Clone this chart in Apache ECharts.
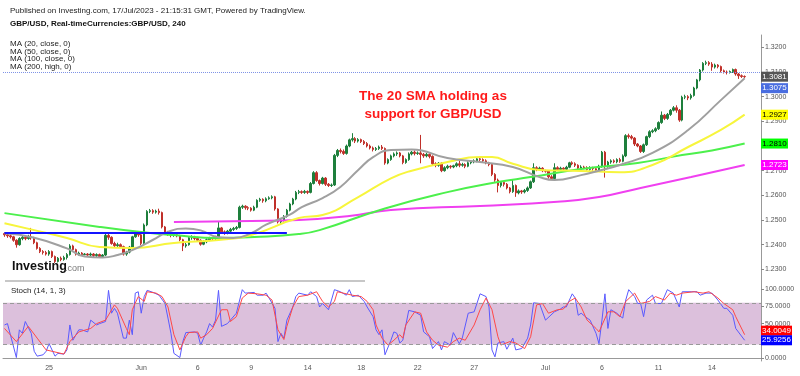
<!DOCTYPE html>
<html>
<head>
<meta charset="utf-8">
<script src="https://cdn.jsdelivr.net/npm/echarts@6/dist/echarts.min.js"></script>
<style>
  html, body { margin: 0; padding: 0; background: #fff; }
  #chart { width: 800px; height: 376px; }
</style>
</head>
<body>
<div id="chart"></div>
<script>
///////////////////////////////////////////////////
// Data
///////////////////////////////////////////////////

// 4h sessions: day name and number of bars of that day
const sessionDays = ['May 22', 'May 23', 'May 24', 'May 25', 'May 26', 'May 28', 'May 29', 'May 30', 'May 31',
  'Jun 1', 'Jun 2', 'Jun 4', 'Jun 5', 'Jun 6', 'Jun 7', 'Jun 8', 'Jun 9', 'Jun 11', 'Jun 12', 'Jun 13',
  'Jun 14', 'Jun 15', 'Jun 16', 'Jun 18', 'Jun 19', 'Jun 20', 'Jun 21', 'Jun 22', 'Jun 23', 'Jun 25',
  'Jun 26', 'Jun 27', 'Jun 28', 'Jun 29', 'Jun 30', 'Jul 2', 'Jul 3', 'Jul 4', 'Jul 5', 'Jul 6', 'Jul 7',
  'Jul 9', 'Jul 10', 'Jul 11', 'Jul 12', 'Jul 13', 'Jul 14', 'Jul 16', 'Jul 17'];
const barsPerDay = [3, 6, 6, 6, 6, 1, 6, 6, 6, 6, 6, 1, 6, 6, 6, 6, 6, 1, 6, 6, 6, 6, 6, 1, 6, 6, 6, 6, 6, 1,
  6, 6, 6, 6, 6, 1, 6, 6, 6, 6, 6, 1, 6, 6, 6, 6, 6, 1, 5];
const emptyBarsRight = 5;

// x axis tick labels
const tickDays = ['May 25', 'Jun 1', 'Jun 6', 'Jun 9', 'Jun 14', 'Jun 18', 'Jun 22', 'Jun 27', 'Jul 2', 'Jul 6', 'Jul 11', 'Jul 14'];
const tickTexts = ['25', 'Jun', '6', '9', '14', '18', '22', '27', 'Jul', '6', '11', '14'];

// y axis tick labels
const priceTicks = [1.23, 1.24, 1.25, 1.26, 1.27, 1.28, 1.29, 1.30, 1.31, 1.32];
const stochTicks = [0, 25, 50, 75, 100];

// candles: [open, close, low, high]
const candles = [
  [1.2445,1.2440,1.2432,1.2450],[1.2440,1.2436,1.2428,1.2446],[1.2436,1.2432,1.2425,1.2442],[1.2432,1.2418,1.2412,1.2436],
  [1.2418,1.2400,1.2388,1.2422],[1.2400,1.2425,1.2396,1.2430],[1.2425,1.2430,1.2418,1.2436],[1.2430,1.2425,1.2418,1.2437],
  [1.2425,1.2432,1.2420,1.2440],[1.2432,1.2428,1.2420,1.2468],[1.2428,1.2408,1.2402,1.2432],[1.2408,1.2385,1.2380,1.2412],
  [1.2385,1.2372,1.2366,1.2390],[1.2372,1.2368,1.2360,1.2378],[1.2368,1.2362,1.2356,1.2375],[1.2362,1.2372,1.2355,1.2378],
  [1.2372,1.2352,1.2346,1.2376],[1.2352,1.2332,1.2326,1.2356],[1.2332,1.2345,1.2328,1.2350],[1.2345,1.2340,1.2333,1.2352],
  [1.2340,1.2348,1.2335,1.2355],[1.2348,1.2360,1.2340,1.2366],[1.2360,1.2395,1.2356,1.2402],[1.2395,1.2380,1.2372,1.2400],
  [1.2380,1.2362,1.2356,1.2384],[1.2362,1.2366,1.2356,1.2372],[1.2366,1.2360,1.2354,1.2370],[1.2360,1.2362,1.2357,1.2366],
  [1.2362,1.2358,1.2350,1.2366],[1.2358,1.2362,1.2352,1.2368],[1.2362,1.2356,1.2350,1.2366],[1.2356,1.2360,1.2350,1.2365],
  [1.2360,1.2352,1.2346,1.2364],[1.2352,1.2358,1.2346,1.2362],[1.2358,1.2438,1.2354,1.2444],[1.2438,1.2430,1.2420,1.2445],
  [1.2430,1.2405,1.2400,1.2434],[1.2405,1.2396,1.2390,1.2412],[1.2396,1.2400,1.2390,1.2408],[1.2400,1.2392,1.2386,1.2405],
  [1.2392,1.2362,1.2356,1.2396],[1.2362,1.2370,1.2355,1.2375],[1.2370,1.2390,1.2365,1.2395],[1.2390,1.2432,1.2386,1.2436],
  [1.2432,1.2445,1.2428,1.2450],[1.2445,1.2440,1.2432,1.2452],[1.2440,1.2405,1.2398,1.2444],[1.2405,1.2480,1.2400,1.2486],
  [1.2480,1.2535,1.2475,1.2540],[1.2535,1.2538,1.2528,1.2545],[1.2538,1.2532,1.2525,1.2544],[1.2532,1.2536,1.2526,1.2542],
  [1.2536,1.2530,1.2522,1.2546],[1.2530,1.2472,1.2466,1.2534],[1.2472,1.2448,1.2440,1.2476],[1.2448,1.2445,1.2436,1.2456],
  [1.2445,1.2438,1.2430,1.2450],[1.2438,1.2440,1.2432,1.2446],[1.2440,1.2436,1.2430,1.2442],[1.2436,1.2420,1.2414,1.2440],
  [1.2420,1.2395,1.2374,1.2424],[1.2395,1.2400,1.2388,1.2408],[1.2400,1.2428,1.2396,1.2432],[1.2428,1.2430,1.2420,1.2438],
  [1.2430,1.2425,1.2418,1.2436],[1.2425,1.2418,1.2412,1.2432],[1.2418,1.2402,1.2396,1.2422],[1.2402,1.2412,1.2398,1.2418],
  [1.2412,1.2420,1.2406,1.2426],[1.2420,1.2428,1.2414,1.2432],[1.2428,1.2424,1.2418,1.2432],[1.2424,1.2432,1.2418,1.2436],
  [1.2432,1.2468,1.2428,1.2495],[1.2468,1.2452,1.2446,1.2472],[1.2452,1.2448,1.2440,1.2458],[1.2448,1.2455,1.2442,1.2460],
  [1.2455,1.2462,1.2450,1.2468],[1.2462,1.2466,1.2456,1.2472],[1.2466,1.2470,1.2460,1.2476],[1.2470,1.2552,1.2466,1.2558],
  [1.2552,1.2556,1.2545,1.2562],[1.2556,1.2550,1.2542,1.2560],[1.2550,1.2548,1.2540,1.2556],[1.2548,1.2540,1.2534,1.2552],
  [1.2540,1.2552,1.2536,1.2558],[1.2552,1.2580,1.2548,1.2584],[1.2580,1.2584,1.2574,1.2590],[1.2584,1.2578,1.2570,1.2588],
  [1.2578,1.2586,1.2572,1.2592],[1.2586,1.2590,1.2582,1.2596],[1.2590,1.2594,1.2584,1.2600],[1.2594,1.2545,1.2538,1.2598],
  [1.2545,1.2492,1.2486,1.2548],[1.2492,1.2500,1.2484,1.2506],[1.2500,1.2515,1.2494,1.2520],[1.2515,1.2540,1.2510,1.2545],
  [1.2540,1.2565,1.2535,1.2570],[1.2565,1.2585,1.2560,1.2590],[1.2585,1.2612,1.2580,1.2618],[1.2612,1.2615,1.2605,1.2622],
  [1.2615,1.2612,1.2606,1.2620],[1.2612,1.2616,1.2606,1.2622],[1.2616,1.2612,1.2605,1.2620],[1.2612,1.2648,1.2608,1.2654],
  [1.2648,1.2692,1.2644,1.2698],[1.2692,1.2660,1.2655,1.2698],[1.2660,1.2648,1.2640,1.2664],[1.2648,1.2670,1.2644,1.2675],
  [1.2670,1.2645,1.2638,1.2674],[1.2645,1.2640,1.2634,1.2650],[1.2640,1.2642,1.2634,1.2648],[1.2642,1.2762,1.2638,1.2768],
  [1.2762,1.2782,1.2755,1.2788],[1.2782,1.2778,1.2770,1.2790],[1.2778,1.2770,1.2764,1.2786],[1.2770,1.2800,1.2765,1.2806],
  [1.2800,1.2825,1.2795,1.2830],[1.2825,1.2830,1.2818,1.2852],[1.2830,1.2820,1.2812,1.2836],[1.2820,1.2826,1.2814,1.2832],
  [1.2826,1.2818,1.2812,1.2830],[1.2818,1.2810,1.2804,1.2824],[1.2810,1.2800,1.2794,1.2816],[1.2800,1.2792,1.2786,1.2806],
  [1.2792,1.2786,1.2778,1.2798],[1.2786,1.2790,1.2780,1.2796],[1.2790,1.2796,1.2784,1.2802],[1.2796,1.2790,1.2784,1.2804],
  [1.2790,1.2731,1.2724,1.2794],[1.2731,1.2745,1.2726,1.2750],[1.2745,1.2760,1.2740,1.2765],[1.2760,1.2768,1.2754,1.2774],
  [1.2768,1.2772,1.2760,1.2778],[1.2772,1.2760,1.2754,1.2776],[1.2760,1.2733,1.2726,1.2764],[1.2733,1.2745,1.2728,1.2750],
  [1.2745,1.2768,1.2740,1.2774],[1.2768,1.2775,1.2762,1.2780],[1.2775,1.2770,1.2762,1.2782],[1.2770,1.2772,1.2764,1.2778],
  [1.2772,1.2766,1.2730,1.2845],[1.2766,1.2760,1.2752,1.2772],[1.2760,1.2766,1.2754,1.2772],[1.2766,1.2758,1.2750,1.2770],
  [1.2758,1.2728,1.2720,1.2762],[1.2728,1.2722,1.2714,1.2734],[1.2722,1.2730,1.2716,1.2735],[1.2730,1.2700,1.2694,1.2734],
  [1.2700,1.2712,1.2696,1.2718],[1.2712,1.2718,1.2706,1.2724],[1.2718,1.2715,1.2708,1.2722],[1.2715,1.2720,1.2710,1.2724],
  [1.2720,1.2728,1.2714,1.2734],[1.2728,1.2722,1.2714,1.2740],[1.2722,1.2725,1.2716,1.2732],[1.2725,1.2718,1.2710,1.2730],
  [1.2718,1.2732,1.2714,1.2738],[1.2732,1.2736,1.2726,1.2742],[1.2736,1.2740,1.2730,1.2746],[1.2740,1.2748,1.2734,1.2754],
  [1.2748,1.2745,1.2738,1.2752],[1.2745,1.2740,1.2732,1.2750],[1.2740,1.2732,1.2726,1.2746],[1.2732,1.2725,1.2718,1.2736],
  [1.2725,1.2685,1.2678,1.2728],[1.2685,1.2662,1.2655,1.2690],[1.2662,1.2640,1.2612,1.2668],[1.2640,1.2652,1.2632,1.2658],
  [1.2652,1.2645,1.2636,1.2656],[1.2645,1.2630,1.2624,1.2650],[1.2630,1.2615,1.2608,1.2634],[1.2615,1.2640,1.2610,1.2662],
  [1.2640,1.2610,1.2594,1.2644],[1.2610,1.2618,1.2604,1.2624],[1.2618,1.2614,1.2606,1.2622],[1.2614,1.2620,1.2608,1.2626],
  [1.2620,1.2630,1.2614,1.2636],[1.2630,1.2655,1.2626,1.2660],[1.2655,1.2712,1.2650,1.2730],[1.2712,1.2705,1.2698,1.2718],
  [1.2705,1.2710,1.2700,1.2716],[1.2710,1.2700,1.2694,1.2714],[1.2700,1.2698,1.2692,1.2704],[1.2698,1.2675,1.2668,1.2702],
  [1.2675,1.2668,1.2662,1.2682],[1.2668,1.2712,1.2664,1.2730],[1.2712,1.2705,1.2700,1.2718],[1.2705,1.2710,1.2700,1.2716],
  [1.2710,1.2706,1.2700,1.2714],[1.2706,1.2714,1.2700,1.2720],[1.2714,1.2732,1.2710,1.2736],[1.2732,1.2728,1.2722,1.2738],
  [1.2728,1.2722,1.2715,1.2734],[1.2722,1.2710,1.2704,1.2726],[1.2710,1.2715,1.2705,1.2722],[1.2715,1.2712,1.2706,1.2720],
  [1.2712,1.2705,1.2700,1.2718],[1.2705,1.2712,1.2700,1.2718],[1.2712,1.2708,1.2700,1.2716],[1.2708,1.2702,1.2696,1.2714],
  [1.2702,1.2718,1.2696,1.2724],[1.2718,1.2775,1.2712,1.2780],[1.2775,1.2718,1.2672,1.2780],[1.2718,1.2735,1.2712,1.2740],
  [1.2735,1.2740,1.2728,1.2746],[1.2740,1.2736,1.2730,1.2746],[1.2736,1.2745,1.2730,1.2750],[1.2745,1.2738,1.2732,1.2752],
  [1.2738,1.2760,1.2734,1.2766],[1.2760,1.2842,1.2755,1.2848],[1.2842,1.2838,1.2830,1.2850],[1.2838,1.2832,1.2826,1.2845],
  [1.2832,1.2808,1.2800,1.2836],[1.2808,1.2800,1.2795,1.2812],[1.2800,1.2778,1.2772,1.2804],[1.2778,1.2805,1.2772,1.2810],
  [1.2805,1.2838,1.2800,1.2842],[1.2838,1.2858,1.2832,1.2864],[1.2858,1.2862,1.2852,1.2868],[1.2862,1.2870,1.2856,1.2876],
  [1.2870,1.2895,1.2865,1.2900],[1.2895,1.2925,1.2890,1.2940],[1.2925,1.2912,1.2905,1.2930],[1.2912,1.2928,1.2906,1.2934],
  [1.2928,1.2945,1.2922,1.2950],[1.2945,1.2955,1.2940,1.2962],[1.2955,1.2945,1.2935,1.2965],[1.2945,1.2905,1.2898,1.2950],
  [1.2905,1.2998,1.2900,1.3004],[1.2998,1.3000,1.2990,1.3008],[1.3000,1.2995,1.2986,1.3006],[1.2995,1.3005,1.2988,1.3012],
  [1.3005,1.3035,1.3000,1.3040],[1.3035,1.3068,1.3030,1.3072],[1.3068,1.3108,1.3062,1.3112],[1.3108,1.3135,1.3102,1.3140],
  [1.3135,1.3138,1.3128,1.3146],[1.3138,1.3132,1.3125,1.3144],[1.3132,1.3120,1.3105,1.3140],[1.3120,1.3128,1.3114,1.3134],
  [1.3128,1.3122,1.3115,1.3132],[1.3122,1.3105,1.3098,1.3126],[1.3105,1.3100,1.3094,1.3110],[1.3100,1.3098,1.3090,1.3106],
  [1.3098,1.3102,1.3094,1.3106],[1.3102,1.3110,1.3096,1.3114],[1.3110,1.3092,1.3085,1.3114],[1.3092,1.3085,1.3072,1.3096],
  [1.3085,1.3082,1.3076,1.3090],[1.3082,1.3081,1.3076,1.3086]
];

// moving averages, read at [bar index, price]
const ma20 = [[0,1.2446],[10,1.2428],[21,1.2385],[27,1.2352],[33,1.2348],[38,1.2358],[43,1.2378],[50,1.2420],
  [55,1.2452],[61,1.2466],[66,1.2458],[72,1.2430],[77,1.2427],[83,1.2447],[88,1.2481],[96,1.2522],[100,1.2552],
  [107,1.2589],[113,1.2634],[119,1.2703],[124,1.2755],[130,1.2784],[137,1.2786],[149,1.2751],[160,1.2735],
  [171,1.2715],[180,1.2674],[185,1.2662],[194,1.2682],[200,1.2700],[207,1.2723],[218,1.2772],[230,1.2865],
  [241,1.2986],[249,1.3075]];
const ma50 = [[0,1.2487],[10,1.2459],[21,1.2427],[32,1.2391],[43,1.2387],[57,1.2407],[72,1.2419],[83,1.2439],
  [99,1.2508],[107,1.2520],[119,1.2593],[130,1.2669],[137,1.2700],[149,1.2735],[160,1.2755],[164,1.2755],
  [171,1.2728],[180,1.2703],[194,1.2699],[207,1.2694],[218,1.2723],[230,1.2796],[241,1.2865],[249,1.2927]];
const ma100 = [[0,1.2528],[32,1.2472],[46,1.2451],[57,1.2439],[72,1.2427],[84,1.2431],[99,1.2443],[106,1.2459],
  [128,1.2547],[149,1.2613],[166,1.2654],[177,1.2674],[194,1.2707],[213,1.2731],[225,1.2757],[238,1.2782],[249,1.2810]];
const ma200 = [[57,1.2492],[83,1.2496],[99,1.2500],[116,1.2516],[130,1.2541],[160,1.2557],[186,1.2574],[200,1.2593],
  [214,1.2630],[231,1.2674],[249,1.2723]];

// horizontal support line and last price
const supportLevel = 1.2450;
const supportFrom = 0;
const supportTo = 95;
const lastPrice = 1.3081;

// stochastic (14, 1, 3), read at [bar index, value]
const stochK = [[0,48],[1,50],[4,1],[5,41],[6,36],[7,53],[9,36],[10,10],[11,3],[13,5],[14,10],[15,21],[17,3],[18,7],
  [20,6],[21,12],[22,48],[23,26],[25,41],[26,41],[28,38],[29,55],[31,48],[32,50],[34,53],[35,98],[36,65],[37,72],
  [38,65],[40,29],[41,29],[42,55],[43,34],[44,94],[45,96],[46,65],[47,89],[48,98],[50,95],[52,91],[54,79],[55,58],
  [56,36],[57,7],[59,1],[60,24],[61,37],[64,38],[65,36],[66,19],[67,29],[68,38],[69,50],[70,45],[71,55],[72,98],
  [73,46],[75,50],[76,55],[78,65],[80,99],[81,94],[84,95],[85,91],[87,91],[88,94],[89,87],[91,72],[92,24],[93,36],
  [94,29],[95,55],[97,74],[98,89],[99,94],[102,91],[103,96],[105,89],[106,74],[107,79],[109,70],[110,84],[111,99],
  [113,96],[115,91],[116,99],[117,89],[119,91],[121,82],[122,74],[124,60],[125,41],[126,34],[127,41],[128,5],
  [130,26],[131,38],[132,36],[133,22],[134,26],[136,69],[138,67],[140,62],[141,38],[143,31],[144,14],[146,24],
  [147,12],[148,24],[150,19],[151,37],[153,21],[154,29],[156,65],[158,67],[160,93],[162,89],[163,74],[164,12],
  [165,2],[166,22],[168,24],[169,13],[171,29],[172,12],[174,14],[176,29],[177,48],[178,80],[180,79],[182,55],
  [185,67],[187,71],[188,74],[189,74],[191,93],[192,87],[193,62],[194,65],[196,58],[197,55],[199,36],[200,21],
  [201,55],[202,93],[203,43],[204,70],[206,65],[207,61],[208,58],[209,84],[210,99],[212,89],[213,79],[214,79],
  [215,60],[216,84],[218,91],[219,79],[221,79],[223,99],[225,94],[227,74],[228,96],[231,96],[233,96],[234,91],
  [236,94],[238,94],[239,89],[240,84],[242,72],[243,72],[245,62],[246,43],[249,25.9256]];
const stochD = [[0,43],[4,24],[8,46],[11,29],[14,12],[16,10],[20,6],[22,24],[25,38],[29,43],[31,50],[34,55],
  [37,77],[38,72],[41,43],[42,34],[43,70],[45,89],[47,82],[48,96],[51,94],[53,89],[55,74],[57,34],[59,12],[61,31],
  [62,37],[65,38],[66,29],[68,34],[70,43],[73,70],[75,70],[76,53],[78,60],[80,87],[82,94],[85,93],[88,91],[90,84],
  [92,41],[94,27],[95,46],[97,74],[99,89],[102,91],[105,96],[107,82],[109,74],[111,82],[112,96],[115,93],[117,91],
  [120,89],[122,82],[124,70],[125,48],[127,29],[129,19],[131,26],[133,34],[134,29],[135,48],[138,67],[140,65],
  [142,38],[144,26],[146,19],[149,16],[151,24],[153,29],[155,26],[158,48],[160,70],[162,87],[164,70],[166,31],
  [167,19],[170,24],[172,22],[175,14],[177,31],[179,77],[181,79],[183,65],[186,70],[188,71],[190,82],[192,87],
  [194,74],[196,55],[199,43],[200,38],[203,67],[205,67],[207,60],[209,82],[212,94],[214,79],[217,82],[219,89],
  [222,84],[224,94],[226,91],[228,94],[232,96],[235,94],[237,96],[240,87],[242,79],[245,70],[246,60],[249,34.0049]];
const stochBand = [20, 80];

// price tags on the right axis
const tags = [
  { axis: 0, value: 1.3081, bg: '#555555', fg: '#ffffff', shift: 0 },
  { axis: 0, value: 1.3075, bg: '#4a6ee0', fg: '#ffffff', shift: 10 },
  { axis: 0, value: 1.2927, bg: '#ffff00', fg: '#000000', shift: 0 },
  { axis: 0, value: 1.2810, bg: '#00ff00', fg: '#000000', shift: 0 },
  { axis: 0, value: 1.2723, bg: '#ff00ff', fg: '#ffffff', shift: 0 },
  { axis: 1, value: 34.0049, bg: '#ff0000', fg: '#ffffff', shift: -4 },
  { axis: 1, value: 25.9256, bg: '#0000ff', fg: '#ffffff', shift: 0 },
];

///////////////////////////////////////////////////
// Chart
///////////////////////////////////////////////////
const FONT = '"Liberation Sans", Arial, sans-serif';

// one category per 4h bar, plus a few empty ones on the right
const categories = [];
const tickLabelAt = {};
sessionDays.forEach((day, d) => {
  const t = tickDays.indexOf(day);
  if (t >= 0) tickLabelAt[categories.length] = tickTexts[t];
  for (let k = 0; k < barsPerDay[d]; k++) categories.push(day + ' #' + k);
});
for (let k = 0; k < emptyBarsRight; k++) categories.push('');
const isTick = (i) => tickLabelAt[i] !== undefined;

const chart = echarts.init(document.getElementById('chart'), null, { renderer: 'canvas' });

const maLine = (name, data, color) => ({
  name, type: 'line', data, xAxisIndex: 0, yAxisIndex: 0,
  smooth: true, showSymbol: false, silent: true,
  lineStyle: { color, width: 2 },
});

chart.setOption({
  animation: false,
  backgroundColor: '#ffffff',
  grid: [
    { left: 3, right: 39, top: 35, height: 246.7 },
    { left: 3, right: 39, top: 281, height: 80 },
  ],
  xAxis: [
    { type: 'category', gridIndex: 0, data: categories, boundaryGap: true, show: false },
    {
      type: 'category', gridIndex: 1, data: categories, boundaryGap: true,
      axisLine: { lineStyle: { color: '#999999' } },
      axisTick: { interval: (i) => isTick(i), length: 3, lineStyle: { color: '#999999' } },
      axisLabel: {
        interval: (i) => isTick(i), formatter: (v, i) => tickLabelAt[i] || '',
        color: '#555555', fontSize: 7, fontFamily: FONT, margin: 4,
      },
    },
  ],
  yAxis: [
    {
      type: 'value', gridIndex: 0, position: 'right', min: 1.225, max: 1.325, scale: true,
      splitLine: { show: false },
      axisLine: { show: true, lineStyle: { color: '#999999' } },
      axisTick: { show: true, length: 3, customValues: priceTicks, lineStyle: { color: '#888888' } },
      axisLabel: {
        customValues: priceTicks, formatter: (v) => v.toFixed(4),
        color: '#555555', fontSize: 7, fontFamily: FONT, margin: 4,
      },
    },
    {
      type: 'value', gridIndex: 1, position: 'right', min: -4, max: 111.5,
      splitLine: { show: false },
      axisLine: { show: true, lineStyle: { color: '#999999' } },
      axisTick: { show: true, length: 3, customValues: stochTicks, lineStyle: { color: '#888888' } },
      axisLabel: {
        customValues: stochTicks, formatter: (v) => v.toFixed(4),
        color: '#555555', fontSize: 7, fontFamily: FONT, margin: 4,
      },
    },
  ],
  series: [
    {
      name: 'GBP/USD', type: 'candlestick', data: candles, xAxisIndex: 0, yAxisIndex: 0,
      barWidth: 2,
      itemStyle: {
        color: '#1e7f3c', color0: '#c0302a',
        borderColor: '#1e7f3c', borderColor0: '#c0302a', borderWidth: 1,
      },
      markLine: {
        silent: true, symbol: 'none', label: { show: false }, animation: false,
        data: [
          { yAxis: lastPrice, lineStyle: { color: '#7f93e6', type: 'dotted', width: 1 } },
          [
            { coord: [supportFrom, supportLevel], lineStyle: { color: '#1414ff', type: 'solid', width: 2 } },
            { coord: [supportTo, supportLevel] },
          ],
        ],
      },
    },
    maLine('MA 200', ma200, '#f040f0'),
    maLine('MA 100', ma100, '#4cf04c'),
    maLine('MA 50', ma50, '#f7f53c'),
    maLine('MA 20', ma20, '#a0a0a0'),
    {
      name: '%K', type: 'line', data: stochK, xAxisIndex: 1, yAxisIndex: 1,
      showSymbol: false, silent: true, lineStyle: { color: '#5a5aff', width: 1 },
      markArea: {
        silent: true,
        itemStyle: { color: '#dcc0dc' },
        data: [[{ yAxis: stochBand[0] }, { yAxis: stochBand[1] }]],
      },
      markLine: {
        silent: true, symbol: 'none', label: { show: false },
        lineStyle: { color: '#999999', type: [4, 3], width: 1 },
        data: [{ yAxis: stochBand[0] }, { yAxis: stochBand[1] }],
      },
    },
    {
      name: '%D', type: 'line', data: stochD, xAxisIndex: 1, yAxisIndex: 1,
      showSymbol: false, silent: true, lineStyle: { color: '#ff4848', width: 1 },
    },
  ],
});

// Texts, logo and the axis price tags (tag positions come from the axes)
const graphics = [
  { type: 'text', left: 10, top: 7, style: { text: 'Published on Investing.com, 17/Jul/2023 - 21:15:31 GMT, Powered by TradingView.', font: '8px ' + FONT, fill: '#222222' } },
  { type: 'text', left: 10, top: 20, style: { text: 'GBP/USD, Real-timeCurrencies:GBP/USD, 240', font: 'bold 8px ' + FONT, fill: '#111111' } },
  { type: 'text', left: 10, top: 40, style: { text: 'MA (20, close, 0)', font: '8px ' + FONT, fill: '#222222' } },
  { type: 'text', left: 10, top: 47.5, style: { text: 'MA (50, close, 0)', font: '8px ' + FONT, fill: '#222222' } },
  { type: 'text', left: 10, top: 55, style: { text: 'MA (100, close, 0)', font: '8px ' + FONT, fill: '#222222' } },
  { type: 'text', left: 10, top: 62.5, style: { text: 'MA (200, high, 0)', font: '8px ' + FONT, fill: '#222222' } },
  { type: 'text', x: 433, y: 96, style: { text: 'The 20 SMA holding as', font: 'bold 13.5px ' + FONT, fill: '#ff1a1a', textAlign: 'center', textVerticalAlign: 'middle' } },
  { type: 'text', x: 433, y: 114, style: { text: 'support for GBP/USD', font: 'bold 13.5px ' + FONT, fill: '#ff1a1a', textAlign: 'center', textVerticalAlign: 'middle' } },
  { type: 'text', x: 12, y: 267, style: { text: 'Investing', font: 'bold 12.5px ' + FONT, fill: '#111111', textVerticalAlign: 'middle' } },
  { type: 'text', x: 65, y: 268.5, style: { text: '.com', font: '9px ' + FONT, fill: '#777777', textVerticalAlign: 'middle' } },
  { type: 'line', shape: { x1: 5, y1: 281, x2: 365, y2: 281 }, style: { stroke: '#b4b4b4', lineWidth: 1.5 } },
  { type: 'text', left: 11, top: 287, style: { text: 'Stoch (14, 1, 3)', font: '8px ' + FONT, fill: '#222222' } },
];

tags.forEach((t) => {
  const y = chart.convertToPixel({ yAxisIndex: t.axis }, t.value) + t.shift;
  const label = t.value.toFixed(4);
  const w = t.axis === 0 ? 27 : 31;
  graphics.push({
    type: 'rect', z: 100, shape: { x: 761, y: y - 5, width: w, height: 10 }, style: { fill: t.bg },
  });
  graphics.push({
    type: 'text', z: 101, x: 761 + w / 2, y: y,
    style: { text: label, font: '8px ' + FONT, fill: t.fg, textAlign: 'center', textVerticalAlign: 'middle' },
  });
});

chart.setOption({ graphic: graphics });
</script>
</body>
</html>
